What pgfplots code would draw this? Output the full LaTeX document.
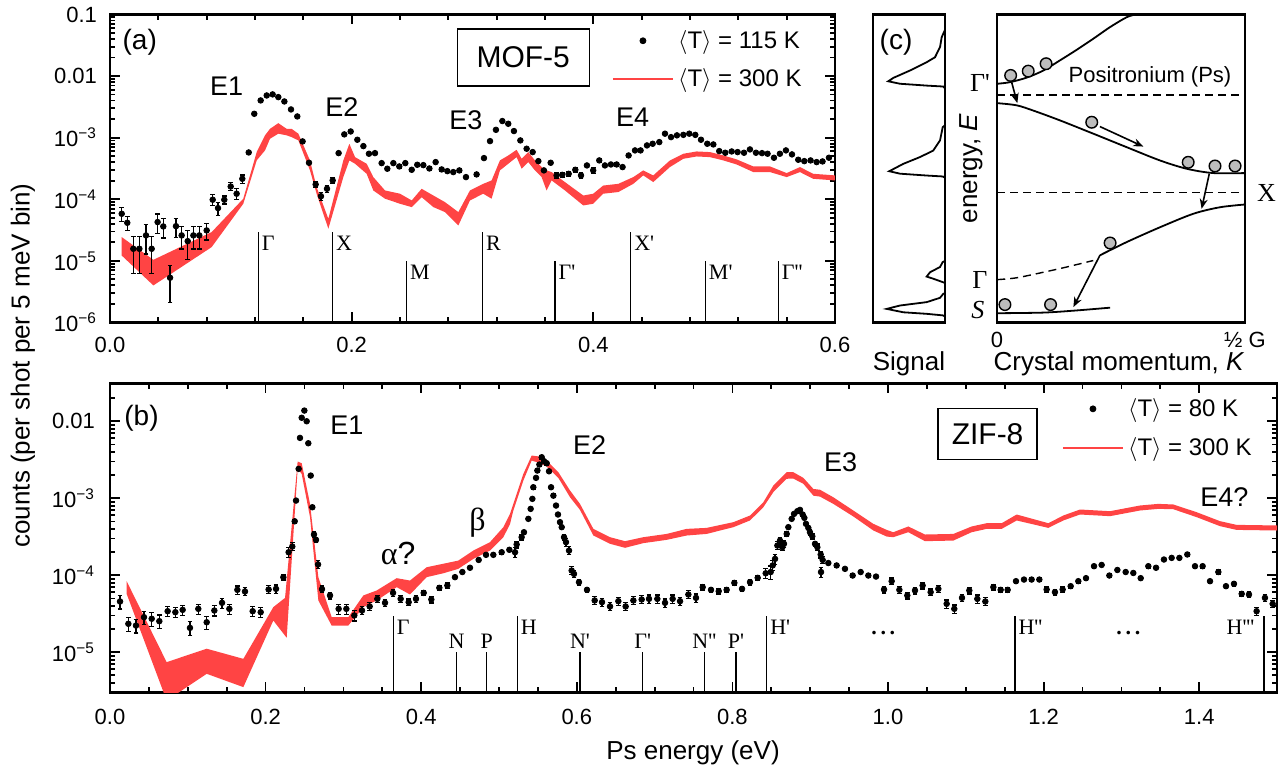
\documentclass[border=0pt]{standalone}
\usepackage{fontspec}
\setmainfont{Liberation Sans}
\newfontfamily\serif{Liberation Serif}
\usepackage{pgfplots}
\usepackage{pgfplotstable}
\pgfplotsset{compat=1.18}
\usetikzlibrary{arrows.meta}

\definecolor{BandRed}{HTML}{FF4444}
\definecolor{DotGray}{HTML}{BDBDBD}

\newcommand{\fsz}[2]{\fontsize{#1}{#2}\selectfont}
\tikzset{mytlab/.style={font=\serif\fsz{11}{13}, inner sep=1.5pt}}

% MOF-5, <T> = 115 K  (x = Ps energy in eV, y = counts, e = relative error)
\pgfplotstableread{
x y e
0.0097 5.81e-5 0.25
0.0143 4.15e-5 0.25
0.0193 1.57e-5 0.6
0.0243 1.57e-5 0.6
0.0298 2.59e-5 0.5
0.0345 1.57e-5 0.6
0.0394 4.26e-5 0.35
0.0441 3.62e-5 0.35
0.0497 5.32e-6 0.6
0.0546 3.66e-5 0.35
0.0593 2.59e-5 0.4
0.0643 2.09e-5 0.5
0.0690 2.59e-5 0.4
0.0739 2.59e-5 0.4
0.0800 3.12e-5 0.3
0.0850 9.82e-5 0.2
0.0894 7.19e-5 0.25
0.0946 9.82e-5 0.15
0.0999 1.61e-4 0.15
0.1048 1.23e-4 0.2
0.1095 2.15e-4 0.15
0.1148 5.75e-4 0.05
0.1194 2.44e-3 0.03
0.1247 4.02e-3 0.03
0.1297 4.84e-3 0.03
0.1346 5.04e-3 0.03
0.1393 4.55e-3 0.03
0.1443 3.87e-3 0.03
0.1498 2.87e-3 0.03
0.1550 2.21e-3 0.03
0.1594 8.69e-4 0.03
0.1647 3.91e-4 0.05
0.1702 1.74e-4 0.1
0.1746 1.12e-4 0.15
0.1796 1.48e-4 0.12
0.1843 2.02e-4 0.1
0.1892 5.61e-4 0.05
0.1939 1.13e-3 0.03
0.1992 1.26e-3 0.03
0.2047 9.25e-4 0.03
0.2097 7.29e-4 0.03
0.2143 5.48e-4 0.05
0.2193 5.61e-4 0.05
0.2248 3.86e-4 0.06
0.2295 3.13e-4 0.06
0.2345 3.86e-4 0.06
0.2394 3.41e-4 0.06
0.2444 3.86e-4 0.06
0.2497 3.01e-4 0.06
0.2543 3.63e-4 0.06
0.2593 3.58e-4 0.06
0.2643 3.16e-4 0.06
0.2695 4.01e-4 0.06
0.2745 3.05e-4 0.06
0.2792 2.86e-4 0.06
0.2841 2.76e-4 0.06
0.2891 2.94e-4 0.06
0.2946 2.29e-4 0.06
0.3034 2.53e-4 0.06
0.3095 4.66e-4 0.04
0.3145 8.79e-4 0.03
0.3194 1.34e-3 0.03
0.3247 1.86e-3 0.03
0.3296 1.68e-3 0.03
0.3343 1.28e-3 0.03
0.3396 9.02e-4 0.03
0.3448 6.61e-4 0.04
0.3498 5.83e-4 0.04
0.3545 4.16e-4 0.05
0.3591 2.94e-4 0.06
0.3647 3.91e-4 0.05
0.3696 2.44e-4 0.12
0.3743 2.49e-4 0.1
0.3796 2.59e-4 0.1
0.3851 3.01e-4 0.1
0.3898 2.44e-4 0.1
0.3947 3.54e-4 0.08
0.3999 2.94e-4 0.1
0.4049 4.27e-4 0.06
0.4096 3.54e-4 0.08
0.4146 3.67e-4 0.06
0.4193 3.67e-4 0.06
0.4242 3.33e-4 0.06
0.4292 5.14e-4 0.05
0.4345 6.21e-4 0.05
0.4391 6.21e-4 0.05
0.4444 7.48e-4 0.04
0.4491 7.96e-4 0.04
0.4546 8.47e-4 0.04
0.4593 1.16e-3 0.03
0.4643 1.02e-3 0.03
0.4692 1.09e-3 0.03
0.4745 1.11e-3 0.03
0.4794 1.16e-3 0.03
0.4844 1.11e-3 0.03
0.4891 9.25e-4 0.03
0.4943 7.96e-4 0.03
0.4993 7.76e-4 0.03
0.5042 6.05e-4 0.04
0.5092 5.69e-4 0.04
0.5145 5.97e-4 0.04
0.5194 5.83e-4 0.04
0.5247 5.69e-4 0.04
0.5296 6.44e-4 0.04
0.5346 5.69e-4 0.04
0.5396 5.61e-4 0.04
0.5442 5.48e-4 0.04
0.5495 4.72e-4 0.05
0.5544 5.48e-4 0.04
0.5594 6.21e-4 0.04
0.5644 5.35e-4 0.04
0.5696 4.38e-4 0.05
0.5746 4.16e-4 0.05
0.5798 4.27e-4 0.05
0.5848 4.01e-4 0.05
0.5897 4.11e-4 0.05
0.5950 4.72e-4 0.05
}\dataA

% ZIF-8, <T> = 80 K
\pgfplotstableread{
x y e
0.0129 4.56e-5 0.2
0.0236 2.34e-5 0.2
0.0334 2.22e-5 0.2
0.0437 2.85e-5 0.2
0.0536 2.72e-5 0.2
0.0634 2.53e-5 0.2
0.0741 3.41e-5 0.15
0.0840 3.31e-5 0.15
0.0934 3.55e-5 0.15
0.1028 2.07e-5 0.2
0.1135 3.66e-5 0.15
0.1243 2.45e-5 0.2
0.1341 3.48e-5 0.15
0.1440 4.38e-5 0.15
0.1534 3.66e-5 0.15
0.1637 6.46e-5 0.12
0.1735 6.15e-5 0.12
0.1834 3.41e-5 0.15
0.1937 3.31e-5 0.15
0.2039 6.53e-5 0.12
0.2134 6.65e-5 0.12
0.2228 9.42e-5 0.08
0.2296 1.99e-4 0.15
0.2343 2.36e-4 0.12
0.2374 5.02e-4 0.05
0.2391 9.33e-4 0.03
0.2425 2.41e-3 0.03
0.2442 6.08e-3 0.03
0.2464 1.11e-2 0.03
0.2498 1.377e-2 0.03
0.2528 1.00e-2 0.03
0.2549 5.18e-3 0.03
0.2580 1.97e-3 0.03
0.2601 7.64e-4 0.03
0.2622 3.38e-4 0.08
0.2648 2.88e-4 0.08
0.2674 1.38e-4 0.12
0.2725 6.59e-5 0.1
0.2828 5.46e-5 0.1
0.2939 3.66e-5 0.15
0.3038 3.66e-5 0.15
0.3140 3.00e-5 0.15
0.3239 3.48e-5 0.12
0.3338 3.93e-5 0.12
0.3436 4.93e-5 0.1
0.3535 4.38e-5 0.1
0.3638 5.90e-5 0.1
0.3736 4.93e-5 0.1
0.3839 4.47e-5 0.1
0.3933 4.93e-5 0.1
0.4032 5.90e-5 0.08
0.4130 4.84e-5 0.1
0.4233 6.86e-5 0.08
0.4336 7.36e-5 0.08
0.4434 9.44e-5 0.05
0.4529 1.10e-4 0.05
0.4627 1.25e-4 0.05
0.4739 1.58e-4 0.05
0.4833 1.84e-4 0.05
0.4927 1.84e-4 0.05
0.5034 1.99e-4 0.05
0.5133 2.14e-4 0.05
0.5206 1.99e-4 0.15
0.5227 2.51e-4 0.1
0.5291 3.12e-4 0.08
0.5321 3.62e-4 0.05
0.5377 5.40e-4 0.05
0.5407 7.28e-4 0.05
0.5429 9.82e-4 0.05
0.5441 1.39e-3 0.05
0.5476 1.84e-3 0.05
0.5493 2.29e-3 0.05
0.5519 2.74e-3 0.05
0.5549 3.41e-3 0.05
0.5579 3.03e-3 0.05
0.5613 2.85e-3 0.05
0.5643 2.24e-3 0.05
0.5669 1.39e-3 0.05
0.5699 1.08e-3 0.05
0.5733 8.04e-4 0.05
0.5758 6.15e-4 0.05
0.5784 4.89e-4 0.05
0.5806 4.21e-4 0.05
0.5836 3.12e-4 0.08
0.5861 2.69e-4 0.12
0.5900 2.09e-4 0.12
0.5934 1.15e-4 0.12
0.5964 1.04e-4 0.1
0.6028 8.13e-5 0.08
0.6131 6.46e-5 0.08
0.6230 4.70e-5 0.12
0.6324 4.47e-5 0.12
0.6427 3.93e-5 0.12
0.6534 4.60e-5 0.12
0.6628 3.93e-5 0.12
0.6727 4.70e-5 0.12
0.6834 4.84e-5 0.12
0.6928 4.93e-5 0.12
0.7035 4.93e-5 0.12
0.7134 4.38e-5 0.12
0.7232 4.93e-5 0.12
0.7327 4.60e-5 0.12
0.7434 5.62e-5 0.12
0.7532 5.08e-5 0.12
0.7618 7.00e-5 0.08
0.7725 6.46e-5 0.08
0.7824 6.21e-5 0.08
0.7926 6.46e-5 0.08
0.8025 7.96e-5 0.08
0.8124 6.65e-5 0.08
0.8226 8.13e-5 0.08
0.8325 9.25e-5 0.08
0.8428 1.06e-4 0.15
0.8492 1.10e-4 0.2
0.8518 1.34e-4 0.15
0.8548 1.63e-4 0.15
0.8578 2.43e-4 0.12
0.8612 2.82e-4 0.1
0.8642 2.31e-4 0.1
0.8663 2.56e-4 0.1
0.8698 3.44e-4 0.08
0.8719 4.21e-4 0.05
0.8762 5.40e-4 0.05
0.8792 6.26e-4 0.05
0.8835 6.79e-4 0.05
0.8869 7.06e-4 0.05
0.8903 6.15e-4 0.05
0.8925 5.56e-4 0.05
0.8946 4.65e-4 0.05
0.8976 4.12e-4 0.05
0.8997 3.62e-4 0.08
0.9027 3.21e-4 0.08
0.9062 2.56e-4 0.08
0.9092 2.31e-4 0.1
0.9135 1.86e-4 0.1
0.9139 1.10e-4 0.15
0.9160 1.58e-4 0.1
0.9233 1.44e-4 0.05
0.9340 1.34e-4 0.05
0.9447 1.21e-4 0.05
0.9546 9.91e-5 0.05
0.9649 1.10e-4 0.05
0.9747 9.91e-5 0.05
0.9846 9.61e-5 0.05
0.9949 6.53e-5 0.1
1.0047 8.37e-5 0.1
1.0146 6.46e-5 0.1
1.0248 5.46e-5 0.1
1.0347 6.34e-5 0.1
1.0445 7.36e-5 0.1
1.0548 6.03e-5 0.1
1.0647 6.65e-5 0.1
1.0754 4.25e-5 0.12
1.0852 3.66e-5 0.12
1.0951 5.08e-5 0.1
1.1045 6.34e-5 0.1
1.1148 4.93e-5 0.12
1.1251 4.56e-5 0.12
1.1354 7.00e-5 0.08
1.1448 6.46e-5 0.08
1.1538 6.46e-5 0.08
1.1645 8.37e-5 0.06
1.1748 8.79e-5 0.06
1.1846 8.79e-5 0.06
1.1945 8.79e-5 0.06
1.2039 6.53e-5 0.08
1.2146 6.03e-5 0.08
1.2245 6.53e-5 0.08
1.2348 7.21e-5 0.06
1.2446 8.37e-5 0.06
1.2545 9.16e-5 0.06
1.2648 1.31e-4 0.05
1.2746 1.36e-4 0.05
1.2845 9.91e-5 0.05
1.2948 1.17e-4 0.05
1.3055 1.10e-4 0.05
1.3153 1.07e-4 0.05
1.3248 9.16e-5 0.05
1.3346 1.31e-4 0.05
1.3445 1.25e-4 0.05
1.3547 1.60e-4 0.05
1.3646 1.68e-4 0.05
1.3745 1.68e-4 0.05
1.3847 1.86e-4 0.05
1.3946 1.31e-4 0.05
1.4044 1.31e-4 0.05
1.4139 8.37e-5 0.06
1.4246 1.10e-4 0.06
1.4344 7.21e-5 0.06
1.4447 7.73e-5 0.06
1.4546 5.73e-5 0.08
1.4640 5.62e-5 0.08
1.4738 3.41e-5 0.12
1.4845 5.08e-5 0.1
1.4944 4.25e-5 0.1
}\dataB

\begin{document}
\begin{tikzpicture}
\path (0pt,0pt) rectangle (643pt,385pt);

% ---------------- (a) MOF-5 ----------------
\begin{axis}[
  scale only axis, ymode=log,
  at={(55pt,224pt)}, anchor=south west, width=362.5pt, height=154pt,
  xmin=0, xmax=0.6, ymin=1e-6, ymax=0.1,
  axis line style={line width=1.1pt},
  major tick style={black, line width=0.9pt}, minor tick style={black, line width=0.9pt},
  major tick length=5pt, minor tick length=2.6pt, tick align=inside,
  tick label style={font=\fsz{11}{13}},
  /pgf/number format/assume math mode=true,
  xtick={0,0.2,0.4,0.6}, minor x tick num=4,
  xticklabel style={/pgf/number format/fixed, /pgf/number format/fixed zerofill, /pgf/number format/precision=1, yshift=-3.8pt},
  ytick={1e-6,1e-5,1e-4,1e-3,1e-2,1e-1},
  yticklabels={10\textsuperscript{−6},10\textsuperscript{−5},10\textsuperscript{−4},10\textsuperscript{−3},0.01,0.1},
  minor ytick={2e-6,3e-6,4e-6,5e-6,6e-6,7e-6,8e-6,9e-6,
    2e-5,3e-5,4e-5,5e-5,6e-5,7e-5,8e-5,9e-5,
    2e-4,3e-4,4e-4,5e-4,6e-4,7e-4,8e-4,9e-4,
    2e-3,3e-3,4e-3,5e-3,6e-3,7e-3,8e-3,9e-3,
    2e-2,3e-2,4e-2,5e-2,6e-2,7e-2,8e-2,9e-2},
  yticklabel style={xshift=-3pt},
  legend cell align=left,
  legend image post style={xscale=1.76},
  legend style={draw=none, fill=none, at={(0.960,0.963)}, anchor=north east,
    inner sep=0pt, font=\fsz{12}{14}, row sep=4.5pt},
]
\addlegendimage{only marks, mark=*, mark size=1.5pt, black, mark options={xscale=0.568}}
\addlegendentry{$\langle$T$\rangle$ = 115 K}
\addlegendimage{BandRed, line width=1.2pt}
\addlegendentry{$\langle$T$\rangle$ = 300 K}

% <T> = 300 K band: upper edge left to right, lower edge right to left
\addplot[fill=BandRed, draw=none, forget plot] coordinates {
(0.0097,2.43e-5) (0.0359,1.04e-5) (0.0841,2.93e-5) (0.1103,1.02e-4) (0.1214,5.83e-4)
(0.1283,1.09e-3) (0.1324,1.39e-3) (0.1393,1.72e-3) (0.1462,1.39e-3) (0.1503,1.39e-3)
(0.1559,1.16e-3) (0.1655,4.27e-4) (0.1710,1.57e-4) (0.1807,4.82e-5) (0.1931,4.27e-4)
(0.1981,7.96e-4) (0.2028,4.83e-4) (0.2124,3.77e-4) (0.2179,2.29e-4) (0.2276,1.39e-4)
(0.2400,1.23e-4) (0.2497,9.57e-5) (0.2579,1.48e-4) (0.2676,1.15e-4) (0.2772,8.99e-5)
(0.2883,6.19e-5) (0.2979,1.39e-4) (0.3089,1.78e-4) (0.3158,2.02e-4) (0.3227,4.27e-4)
(0.3296,5.14e-4) (0.3365,6.35e-4) (0.3407,4.54e-4) (0.3462,5.83e-4) (0.3517,4.27e-4)
(0.3572,3.33e-4) (0.3613,2.94e-4) (0.3655,2.76e-4) (0.3765,1.90e-4) (0.3917,1.15e-4)
(0.3999,1.23e-4) (0.4082,1.67e-4) (0.4207,1.78e-4) (0.4331,2.29e-4) (0.4413,2.94e-4)
(0.4496,2.44e-4) (0.4634,4.27e-4) (0.4745,5.48e-4) (0.4855,5.97e-4) (0.4965,5.83e-4)
(0.5076,5.14e-4) (0.5186,4.44e-4) (0.5324,3.41e-4) (0.5462,3.41e-4) (0.5600,2.66e-4)
(0.5710,3.33e-4) (0.5820,2.59e-4) (0.6000,2.44e-4)
(0.6000,2.02e-4) (0.5820,2.15e-4) (0.5710,2.76e-4) (0.5600,2.29e-4) (0.5462,2.76e-4)
(0.5324,2.76e-4) (0.5186,3.67e-4) (0.5076,4.27e-4) (0.4965,4.83e-4) (0.4855,4.95e-4)
(0.4745,4.54e-4) (0.4634,3.33e-4) (0.4496,1.90e-4) (0.4413,2.44e-4) (0.4331,1.78e-4)
(0.4207,1.31e-4) (0.4082,1.23e-4) (0.3999,8.45e-5) (0.3917,7.94e-5) (0.3765,1.39e-4)
(0.3655,2.02e-4) (0.3613,1.39e-4) (0.3572,2.29e-4) (0.3517,2.94e-4) (0.3462,4.01e-4)
(0.3407,3.13e-4) (0.3365,4.83e-4) (0.3296,3.77e-4) (0.3227,2.94e-4) (0.3158,1.02e-4)
(0.3089,1.23e-4) (0.2979,9.57e-5) (0.2883,3.76e-5) (0.2772,6.19e-5) (0.2676,7.46e-5)
(0.2579,1.08e-4) (0.2497,7.46e-5) (0.2400,8.45e-5) (0.2276,1.02e-4) (0.2179,1.39e-4)
(0.2124,2.59e-4) (0.2028,3.77e-4) (0.1981,4.27e-4) (0.1931,2.29e-4) (0.1807,3.32e-5)
(0.1710,1.23e-4) (0.1655,2.94e-4) (0.1559,9.02e-4) (0.1503,1.02e-3) (0.1462,1.09e-3)
(0.1393,1.16e-3) (0.1324,9.59e-4) (0.1283,6.21e-4) (0.1214,4.27e-4) (0.1103,8.45e-5)
(0.0841,1.67e-5) (0.0359,3.99e-6) (0.0097,1.22e-5)};

\addplot[only marks, mark=*, mark size=1.4pt, black, forget plot,
  error bars/y dir=both, error bars/y explicit relative,
  error bars/error mark options={rotate=90, mark size=1.15pt, line width=0.6pt},
  error bars/error bar style={line width=0.6pt}]
  table[x=x, y=y, y error=e] {\dataA};

% Brillouin-zone markers
\draw[line width=0.6pt] (axis cs:0.1228,1e-6) -- (axis cs:0.1228,2.92e-5) node[mytlab, anchor=north west] {Γ};
\draw[line width=0.6pt] (axis cs:0.1842,1e-6) -- (axis cs:0.1842,2.92e-5) node[mytlab, anchor=north west] {X};
\draw[line width=0.6pt] (axis cs:0.2455,1e-6) -- (axis cs:0.2455,9.9e-6) node[mytlab, anchor=north west] {M};
\draw[line width=0.6pt] (axis cs:0.3082,1e-6) -- (axis cs:0.3082,2.92e-5) node[mytlab, anchor=north west] {R};
\draw[line width=0.6pt] (axis cs:0.3683,1e-6) -- (axis cs:0.3683,9.9e-6) node[mytlab, anchor=north west] {Γ'};
\draw[line width=0.6pt] (axis cs:0.4309,1e-6) -- (axis cs:0.4309,2.92e-5) node[mytlab, anchor=north west] {X'};
\draw[line width=0.6pt] (axis cs:0.4927,1e-6) -- (axis cs:0.4927,9.9e-6) node[mytlab, anchor=north west] {M'};
\draw[line width=0.6pt] (axis cs:0.5531,1e-6) -- (axis cs:0.5531,9.9e-6) node[mytlab, anchor=north west] {Γ''};

\node[font=\fsz{14}{16}] at (rel axis cs:0.041,0.909) {(a)};
\node[font=\fsz{13.5}{16}] at (rel axis cs:0.161,0.766) {E1};
\node[font=\fsz{13.5}{16}] at (rel axis cs:0.320,0.698) {E2};
\node[font=\fsz{13.5}{16}] at (rel axis cs:0.491,0.656) {E3};
\node[font=\fsz{13.5}{16}] at (rel axis cs:0.721,0.666) {E4};
\node[draw, line width=0.7pt, minimum width=66pt, minimum height=28.5pt, inner sep=0pt, font=\fsz{15}{18}]
  at (rel axis cs:0.570,0.860) {MOF-5};
\end{axis}

% ---------------- (b) ZIF-8 ----------------
\begin{axis}[
  scale only axis, ymode=log,
  at={(55pt,39pt)}, anchor=south west, width=583.5pt, height=154.5pt,
  xmin=0, xmax=1.5, ymin=3e-6, ymax=0.031,
  axis line style={line width=1.1pt},
  major tick style={black, line width=0.9pt}, minor tick style={black, line width=0.9pt},
  major tick length=5pt, minor tick length=2.6pt, tick align=inside,
  tick label style={font=\fsz{11}{13}},
  /pgf/number format/assume math mode=true,
  xtick={0,0.2,0.4,0.6,0.8,1.0,1.2,1.4}, minor x tick num=3,
  xticklabel style={/pgf/number format/fixed, /pgf/number format/fixed zerofill, /pgf/number format/precision=1, yshift=-5pt},
  ytick={1e-5,1e-4,1e-3,1e-2},
  yticklabels={10\textsuperscript{−5},10\textsuperscript{−4},10\textsuperscript{−3},0.01},
  minor ytick={4e-6,5e-6,6e-6,7e-6,8e-6,9e-6,
    2e-5,3e-5,4e-5,5e-5,6e-5,7e-5,8e-5,9e-5,
    2e-4,3e-4,4e-4,5e-4,6e-4,7e-4,8e-4,9e-4,
    2e-3,3e-3,4e-3,5e-3,6e-3,7e-3,8e-3,9e-3,2e-2,3e-2},
  yticklabel style={xshift=-4pt},
  legend cell align=left,
  legend image post style={xscale=1.76},
  legend style={draw=none, fill=none, at={(0.982,0.966)}, anchor=north east,
    inner sep=0pt, font=\fsz{12}{14}, row sep=5pt},
]
\addlegendimage{only marks, mark=*, mark size=1.5pt, black, mark options={xscale=0.568}}
\addlegendentry{$\langle$T$\rangle$ = 80 K}
\addlegendimage{BandRed, line width=1.2pt}
\addlegendentry{$\langle$T$\rangle$ = 300 K}

\addplot[fill=BandRed, draw=none, forget plot] coordinates {
(0.0214,8.37e-5) (0.0728,7.43e-6) (0.1243,1.11e-5) (0.1714,8.20e-6) (0.2099,3.85e-5)
(0.2250,5.08e-5) (0.2412,3.0e-3) (0.2464,2.85e-3) (0.2571,8.45e-4) (0.2678,9.44e-5)
(0.2849,2.85e-5) (0.3063,2.85e-5) (0.3256,5.46e-5) (0.3428,6.34e-5) (0.3685,9.16e-5)
(0.3856,8.53e-5) (0.4070,1.27e-4) (0.4284,1.41e-4) (0.4477,1.55e-4) (0.4670,2.09e-4)
(0.4884,2.69e-4) (0.5056,4.21e-4) (0.5141,6.26e-4) (0.5184,8.45e-4) (0.5313,2.07e-3)
(0.5420,3.59e-3) (0.5506,3.5e-3) (0.5613,3.09e-3) (0.5763,2.18e-3) (0.5913,1.26e-3)
(0.6041,8.45e-4) (0.6213,4.00e-4) (0.6427,3.12e-4) (0.6620,2.77e-4) (0.6855,3.12e-4)
(0.7155,3.44e-4) (0.7412,4.00e-4) (0.7669,4.12e-4) (0.8012,4.89e-4) (0.8226,5.96e-4)
(0.8398,8.89e-4) (0.8526,1.46e-3) (0.8698,2.18e-3) (0.8783,2.18e-3) (0.8912,1.84e-3)
(0.9041,1.32e-3) (0.9126,1.29e-3) (0.9297,1.03e-3) (0.9555,6.92e-4) (0.9812,4.65e-4)
(0.9983,3.88e-4) (1.0068,3.62e-4) (1.0261,4.30e-4) (1.0475,3.38e-4) (1.0840,3.44e-4)
(1.1075,4.30e-4) (1.1268,4.74e-4) (1.1461,4.74e-4) (1.1654,6.15e-4) (1.2061,4.74e-4)
(1.2253,5.97e-4) (1.2468,7.14e-4) (1.2853,6.79e-4) (1.3239,8.05e-4) (1.3475,8.45e-4)
(1.3667,8.30e-4) (1.3967,6.59e-4) (1.4267,5.04e-4) (1.4481,4.51e-4) (1.5000,4.43e-4)
(1.5000,3.81e-4) (1.4481,3.88e-4) (1.4267,4.34e-4) (1.3967,5.68e-4) (1.3667,7.20e-4)
(1.3475,7.28e-4) (1.3239,6.93e-4) (1.2853,5.85e-4) (1.2468,6.15e-4) (1.2253,5.14e-4)
(1.2061,4.12e-4) (1.1654,5.14e-4) (1.1461,4.00e-4) (1.1268,4.00e-4) (1.1075,3.62e-4)
(1.0840,2.82e-4) (1.0475,2.77e-4) (1.0261,3.62e-4) (1.0068,3.12e-4) (0.9983,3.18e-4)
(0.9812,3.81e-4) (0.9555,5.79e-4) (0.9297,8.45e-4) (0.9126,1.05e-3) (0.9041,1.08e-3)
(0.8912,1.54e-3) (0.8783,1.80e-3) (0.8698,1.79e-3) (0.8526,1.20e-3) (0.8398,7.66e-4)
(0.8226,5.14e-4) (0.8012,4.21e-4) (0.7669,3.44e-4) (0.7412,3.28e-4) (0.7155,2.88e-4)
(0.6855,2.61e-4) (0.6620,2.27e-4) (0.6427,2.56e-4) (0.6213,3.28e-4) (0.6041,7.06e-4)
(0.5913,1.03e-3) (0.5763,1.84e-3) (0.5613,2.58e-3) (0.5506,2.90e-3) (0.5420,3.09e-3)
(0.5313,1.70e-3) (0.5184,6.92e-4) (0.5141,4.60e-4) (0.5056,3.12e-4) (0.4884,2.09e-4)
(0.4670,1.63e-4) (0.4477,1.21e-4) (0.4284,1.06e-4) (0.4070,9.44e-5) (0.3856,5.62e-5)
(0.3685,7.00e-5) (0.3428,4.70e-5) (0.3256,3.85e-5) (0.3063,2.22e-5) (0.2849,2.22e-5)
(0.2678,4.70e-5) (0.2571,5.68e-4) (0.2464,2.07e-3) (0.2412,2.41e-3) (0.2271,1.54e-5)
(0.2099,2.58e-5) (0.1714,3.52e-6) (0.1243,5.24e-6) (0.0728,2.36e-6) (0.0214,5.73e-5)};

\addplot[only marks, mark=*, mark size=1.4pt, black, forget plot,
  error bars/y dir=both, error bars/y explicit relative,
  error bars/error mark options={rotate=90, mark size=1.15pt, line width=0.6pt},
  error bars/error bar style={line width=0.6pt}]
  table[x=x, y=y, y error=e] {\dataB};

\draw[line width=0.6pt] (axis cs:0.3642,3e-6) -- (axis cs:0.3642,2.94e-5) node[mytlab, anchor=north west] {Γ};
\draw[line width=0.6pt] (axis cs:0.4456,3e-6) -- (axis cs:0.4456,1.0e-5) node[mytlab, anchor=south] {N};
\draw[line width=0.6pt] (axis cs:0.4841,3e-6) -- (axis cs:0.4841,1.0e-5) node[mytlab, anchor=south] {P};
\draw[line width=0.6pt] (axis cs:0.5236,3e-6) -- (axis cs:0.5236,2.94e-5) node[mytlab, anchor=north west] {H};
\draw[line width=0.6pt] (axis cs:0.6041,3e-6) -- (axis cs:0.6041,1.0e-5) node[mytlab, anchor=south] {N'};
\draw[line width=0.6pt] (axis cs:0.6847,3e-6) -- (axis cs:0.6847,1.0e-5) node[mytlab, anchor=south] {Γ'};
\draw[line width=0.6pt] (axis cs:0.7639,3e-6) -- (axis cs:0.7639,1.0e-5) node[mytlab, anchor=south] {N''};
\draw[line width=0.6pt] (axis cs:0.8046,3e-6) -- (axis cs:0.8046,1.0e-5) node[mytlab, anchor=south] {P'};
\draw[line width=0.6pt] (axis cs:0.8441,3e-6) -- (axis cs:0.8441,2.94e-5) node[mytlab, anchor=north west] {H'};
\draw[line width=0.6pt] (axis cs:1.1632,3e-6) -- (axis cs:1.1632,2.94e-5) node[mytlab, anchor=north west] {H''};
\draw[line width=0.6pt] (axis cs:1.4833,3e-6) -- (axis cs:1.4833,2.94e-5) node[mytlab, anchor=north east, xshift=-3pt] {H'''};
\node[font=\serif\bfseries\fsz{11}{13}] at (axis cs:0.994,1.75e-5) {.\,.\,.};
\node[font=\serif\bfseries\fsz{11}{13}] at (axis cs:1.309,1.8e-5) {.\,.\,.};

\node[font=\fsz{14}{16}] at (rel axis cs:0.027,0.887) {(b)};
\node[font=\fsz{13.5}{16}] at (rel axis cs:0.203,0.864) {E1};
\node[font=\fsz{16}{18}] at (rel axis cs:0.247,0.450) {{\serif α}?};
\node[font=\serif\fsz{16}{18}] at (rel axis cs:0.315,0.550) {β};
\node[font=\fsz{13.5}{16}] at (rel axis cs:0.411,0.799) {E2};
\node[font=\fsz{13.5}{16}] at (rel axis cs:0.626,0.744) {E3};
\node[font=\fsz{13.5}{16}] at (rel axis cs:0.955,0.631) {E4?};
\node[draw, line width=0.7pt, minimum width=49.5pt, minimum height=25.5pt, inner sep=0pt, font=\fsz{15}{18}]
  at (rel axis cs:0.752,0.837) {ZIF-8};
\end{axis}

% ---------------- (c) signal strip ----------------
\begin{axis}[scale only axis, anchor=south west, at={(436.5pt,224pt)},
  width=36pt, height=154pt, xmin=0, xmax=1, ymin=0, ymax=1, x dir=reverse,
  ticks=none, axis line style={line width=1.1pt}, clip=false]
\addplot[black, line width=0.9pt] coordinates {
(0,1) (0,0.95) (0.046,0.926) (0.069,0.894) (0.139,0.861) (0.254,0.845) (0.486,0.818)
(0.718,0.794) (0.788,0.783) (0.625,0.775) (0.254,0.769) (0.024,0.766) (0,0.76)
(0,0.64) (0.032,0.634) (0.069,0.591) (0.163,0.558) (0.347,0.537) (0.579,0.515)
(0.774,0.491) (0.625,0.483) (0.254,0.477) (0.032,0.474) (0,0.47)
(0,0.20) (0.032,0.196) (0.069,0.180) (0.208,0.163) (0.254,0.149) (0.163,0.142)
(0.032,0.131) (0,0.128)
(0,0.095) (0.024,0.093) (0.069,0.080) (0.254,0.066) (0.625,0.055) (0.810,0.044)
(0.579,0.033) (0.254,0.028) (0.032,0.023) (0,0.02) (0,0)};
\node[font=\fsz{14}{16}] at (axis description cs:0.32,0.909) {(c)};
\node[font=\fsz{13}{15}] at (axis description cs:0.5,-0.133) {Signal};
\end{axis}

% ---------------- (c) band scheme ----------------
\begin{axis}[scale only axis, anchor=south west, at={(498.5pt,224pt)},
  width=124pt, height=154pt, xmin=0, xmax=1, ymin=0, ymax=1,
  xtick={0,1}, xticklabels={0,½ G}, ytick=\empty, major tick length=0pt,
  xticklabel style={font=\fsz{11}{13}, yshift=-1.5pt},
  axis line style={line width=1.1pt}, clip=false]
\addplot[black, line width=0.9pt, smooth] coordinates {
(0.001,0.775) (0.052,0.780) (0.120,0.795) (0.187,0.818) (0.254,0.851)
(0.321,0.885) (0.388,0.921) (0.456,0.959) (0.523,0.991) (0.560,1.0)};
\addplot[black, line width=0.9pt, smooth] coordinates {
(0.001,0.712) (0.079,0.705) (0.146,0.688) (0.254,0.656) (0.388,0.613)
(0.523,0.569) (0.657,0.526) (0.765,0.499) (0.872,0.485) (1.0,0.485)};
\addplot[black, line width=0.7pt, smooth, dash pattern=on 4pt off 2.5pt] coordinates {
(0.001,0.139) (0.079,0.145) (0.187,0.163) (0.281,0.180) (0.388,0.201)};
\addplot[black, line width=0.9pt, smooth] coordinates {
(0.415,0.218) (0.523,0.261) (0.657,0.309) (0.792,0.353) (0.899,0.374) (1.0,0.383)};
\addplot[black, line width=0.9pt, smooth] coordinates {
(0.001,0.030) (0.187,0.032) (0.321,0.039) (0.456,0.048)};
\addplot[black, line width=0.7pt, dash pattern=on 4pt off 2.5pt] coordinates {(0,0.739) (1,0.739)};
\addplot[black, line width=0.7pt, dash pattern=on 4pt off 2.5pt] coordinates {(0,0.421) (1,0.421)};
\addplot[only marks, mark=*, mark size=2.9pt, mark options={fill=DotGray, draw=black, line width=0.7pt}] coordinates {
(0.055,0.802) (0.126,0.816) (0.198,0.840) (0.382,0.650) (0.771,0.520)
(0.879,0.508) (0.960,0.508) (0.456,0.258) (0.032,0.058) (0.216,0.058)};
\draw[-{Stealth[length=5pt,width=4pt]}, line width=0.8pt] (axis cs:0.059,0.780) -- (axis cs:0.082,0.712);
\draw[-{Stealth[length=5pt,width=4pt]}, line width=0.8pt] (axis cs:0.415,0.636) -- (axis cs:0.590,0.571);
\draw[-{Stealth[length=5pt,width=4pt]}, line width=0.8pt] (axis cs:0.856,0.483) -- (axis cs:0.825,0.369);
\draw[-{Stealth[length=5pt,width=4pt]}, line width=0.8pt] (axis cs:0.415,0.218) -- (axis cs:0.308,0.050);
\node[font=\fsz{11}{13}] at (axis cs:0.617,0.797) {Positronium (Ps)};
\node[font=\serif\fsz{13}{15}] at (axis cs:-0.069,0.779) {Γ'};
\node[font=\serif\fsz{13}{15}] at (axis cs:-0.069,0.139) {Γ};
\node[font=\serif\itshape\fsz{13}{15}] at (axis cs:-0.077,0.039) {S};
\node[font=\serif\fsz{13}{15}] at (axis cs:1.087,0.419) {X};
\node[font=\fsz{13}{15}, rotate=90] at (axis description cs:-0.105,0.5) {energy, \textit{E}};
\node[font=\fsz{13}{15}] at (axis description cs:0.492,-0.133) {Crystal momentum, \textit{K}};
\end{axis}

% shared axis titles
\node[font=\fsz{13}{15}, rotate=90] at (11.5pt,202.5pt) {counts (per shot per 5 meV bin)};
\node[font=\fsz{13}{15}] at (346.5pt,9pt) {Ps energy (eV)};
\end{tikzpicture}
\end{document}
